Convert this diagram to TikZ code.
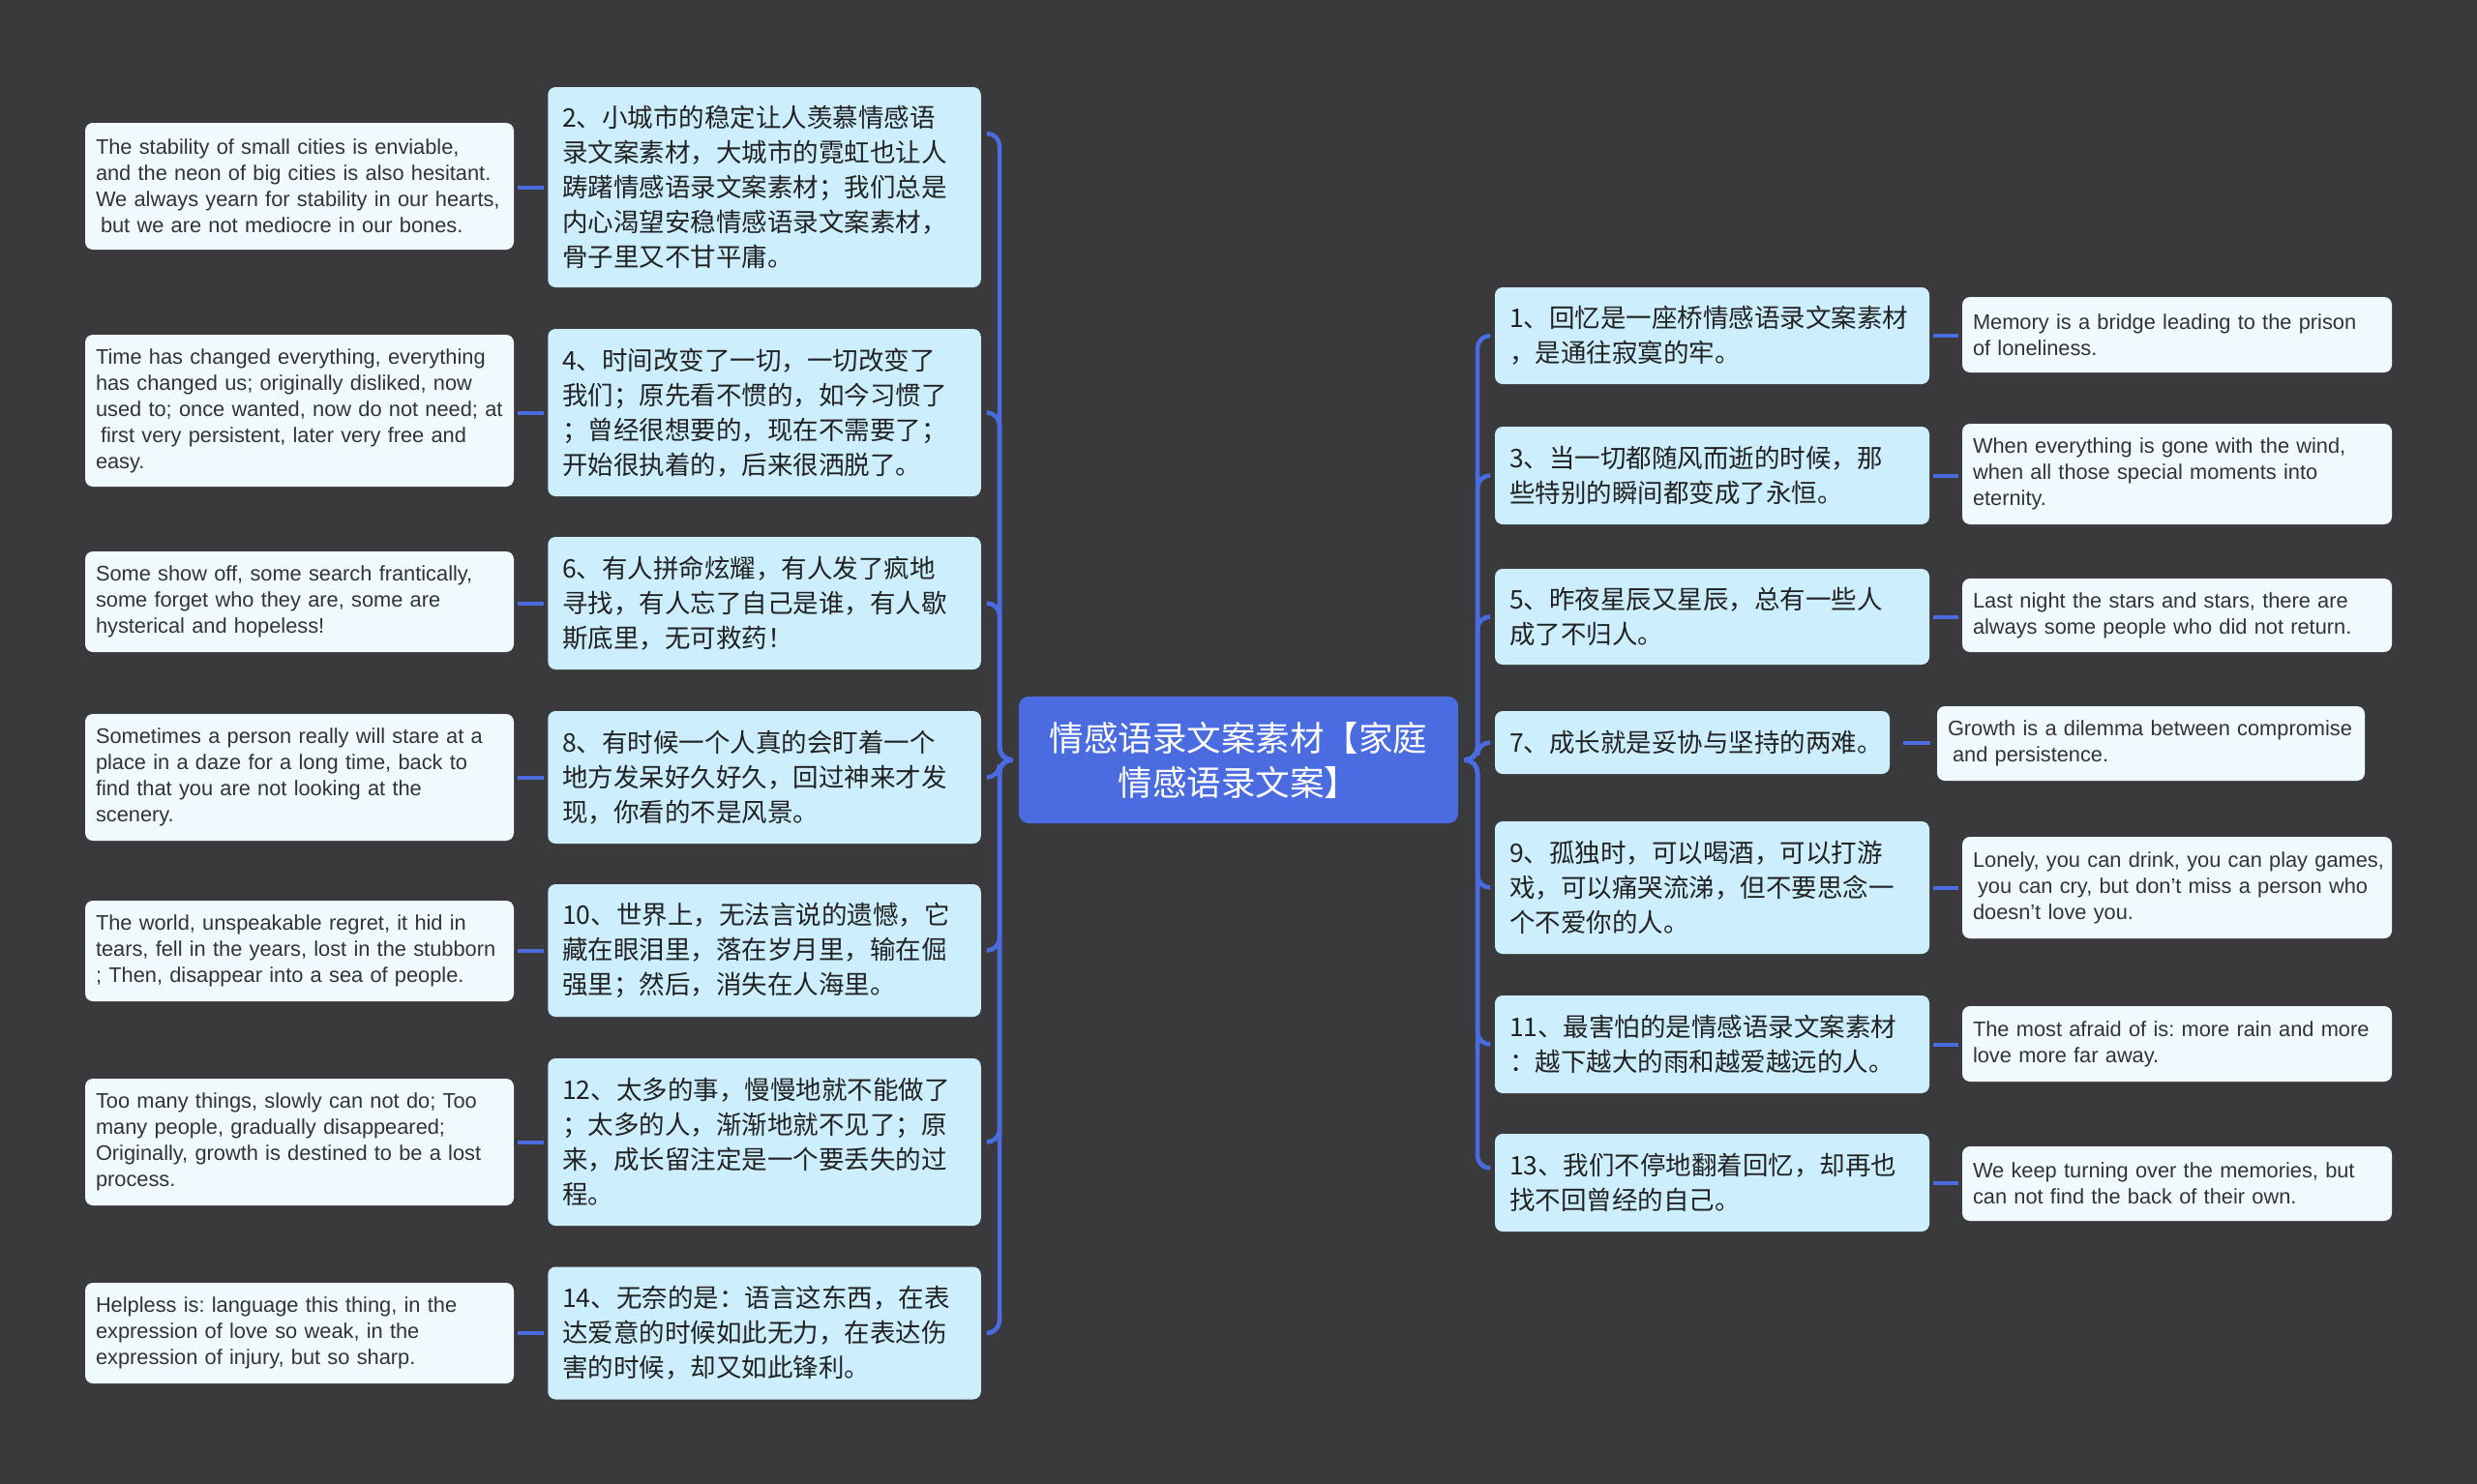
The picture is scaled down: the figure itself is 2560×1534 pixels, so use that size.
\documentclass[tikz,border=0pt]{standalone}
\usepackage{fontspec}
\setmainfont{Liberation Sans}
\newfontfamily\cjk{Noto Sans CJK SC}
\frenchspacing
\definecolor{bg}{HTML}{3A3A3C}
\definecolor{mainblue}{HTML}{4A6CE0}
\definecolor{midfill}{HTML}{CDEFFD}
\definecolor{leaffill}{HTML}{F0FAFE}
\definecolor{midtxt}{HTML}{222222}
\definecolor{leaftxt}{HTML}{333333}
\tikzset{
  box/.style={rounded corners=8pt, inner ysep=0pt, align=left},
  mid/.style={box, fill=midfill, text=midtxt, inner xsep=15pt, font=\cjk\fontsize{26.5}{36}\selectfont},
  midL/.style={mid, text width=417.5pt},
  midR/.style={mid, text width=419pt},
  leaf/.style={box, fill=leaffill, text=leaftxt, inner xsep=11pt, font=\fontsize{21.8}{27}\selectfont},
  leafL/.style={leaf, text width=421pt},
  leafR/.style={leaf, text width=422pt},
  hub/.style={rounded corners=10pt, fill=mainblue, text=white, align=center,
    minimum width=454pt, minimum height=131pt, inner sep=0pt,
    font=\cjk\fontsize{35.5}{46}\selectfont},
  conn/.style={draw=mainblue, line width=4.5pt},
  brace/.style={conn, rounded corners=13pt},
  link/.style={conn, line width=4pt, shorten <=4pt, shorten >=4pt},
}
\begin{document}
\begin{tikzpicture}[x=1pt,y=-1pt]
\useasboundingbox (0,0) rectangle (2560,1534);
\fill[bg] (0,0) rectangle (2560,1534);

% centre
\node[hub] (c) at (1280,785.5) {情感语录文案素材【家庭\\情感语录文案】};

% left middle nodes
\node[midL, minimum height=207pt] (L2) at (790,193.5) {2、小城市的稳定让人羡慕情感语\\录文案素材，大城市的霓虹也让人\\踌躇情感语录文案素材；我们总是\\内心渴望安稳情感语录文案素材，\\骨子里又不甘平庸。};
\node[midL, minimum height=173pt] (L4) at (790,426.5) {4、时间改变了一切，一切改变了\\我们；原先看不惯的，如今习惯了\\；曾经很想要的，现在不需要了；\\开始很执着的，后来很洒脱了。};
\node[midL, minimum height=137pt] (L6) at (790,623.5) {6、有人拼命炫耀，有人发了疯地\\寻找，有人忘了自己是谁，有人歇\\斯底里，无可救药！};
\node[midL, minimum height=137pt] (L8) at (790,803.5) {8、有时候一个人真的会盯着一个\\地方发呆好久好久，回过神来才发\\现，你看的不是风景。};
\node[midL, minimum height=137pt] (L10) at (790,982.5) {10、世界上，无法言说的遗憾，它\\藏在眼泪里，落在岁月里，输在倔\\强里；然后，消失在人海里。};
\node[midL, minimum height=173pt] (L12) at (790,1180.5) {12、太多的事，慢慢地就不能做了\\；太多的人，渐渐地就不见了；原\\来，成长留注定是一个要丢失的过\\程。};
\node[midL, minimum height=137pt] (L14) at (790,1378) {14、无奈的是：语言这东西，在表\\达爱意的时候如此无力，在表达伤\\害的时候，却又如此锋利。};

% left leaves
\node[leafL, minimum height=131pt] (E2) at (309.5,192.5) {The stability of small cities is enviable,\\and the neon of big cities is also hesitant.\\We always yearn for stability in our hearts,\\\hspace*{5pt}but we are not mediocre in our bones.};
\node[leafL, minimum height=157pt] (E4) at (309.5,424.5) {Time has changed everything, everything\\has changed us; originally disliked, now\\used to; once wanted, now do not need; at\\\hspace*{5pt}first very persistent, later very free and\\easy.};
\node[leafL, minimum height=104pt] (E6) at (309.5,622) {Some show off, some search frantically,\\some forget who they are, some are\\hysterical and hopeless!};
\node[leafL, minimum height=131pt] (E8) at (309.5,803.5) {Sometimes a person really will stare at a\\place in a daze for a long time, back to\\find that you are not looking at the\\scenery.};
\node[leafL, minimum height=104pt] (E10) at (309.5,983) {The world, unspeakable regret, it hid in\\tears, fell in the years, lost in the stubborn\\; Then, disappear into a sea of people.};
\node[leafL, minimum height=131pt] (E12) at (309.5,1180.5) {Too many things, slowly can not do; Too\\many people, gradually disappeared;\\Originally, growth is destined to be a lost\\process.};
\node[leafL, minimum height=104pt] (E14) at (309.5,1378) {Helpless is: language this thing, in the\\expression of love so weak, in the\\expression of injury, but so sharp.};

% right middle nodes
\node[midR, minimum height=100pt] (R1) at (1769.5,347) {1、回忆是一座桥情感语录文案素材\\，是通往寂寞的牢。};
\node[midR, minimum height=101pt] (R3) at (1769.5,491.5) {3、当一切都随风而逝的时候，那\\些特别的瞬间都变成了永恒。};
\node[midR, minimum height=99pt] (R5) at (1769.5,637.5) {5、昨夜星辰又星辰，总有一些人\\成了不归人。};
\node[mid, text width=378pt, minimum height=65pt] (R7) at (1749,767.5) {7、成长就是妥协与坚持的两难。};
\node[midR, minimum height=137pt] (R9) at (1769.5,917.5) {9、孤独时，可以喝酒，可以打游\\戏，可以痛哭流涕，但不要思念一\\个不爱你的人。};
\node[midR, minimum height=101pt] (R11) at (1769.5,1079.5) {11、最害怕的是情感语录文案素材\\：越下越大的雨和越爱越远的人。};
\node[midR, minimum height=101pt] (R13) at (1769.5,1222.5) {13、我们不停地翻着回忆，却再也\\找不回曾经的自己。};

% right leaves
\node[leafR, minimum height=78pt] (F1) at (2250,346) {Memory is a bridge leading to the prison\\of loneliness.};
\node[leafR, minimum height=104pt] (F3) at (2250,490) {When everything is gone with the wind,\\when all those special moments into\\eternity.};
\node[leafR, minimum height=76pt] (F5) at (2250,636) {Last night the stars and stars, there are\\always some people who did not return.};
\node[leaf, text width=420pt, minimum height=77pt] (F7) at (2223,768.5) {Growth is a dilemma between compromise\\\hspace*{5pt}and persistence.};
\node[leaf, text width=434pt, inner xsep=5pt, minimum height=105pt] (F9) at (2250,917.5) {\hspace*{6pt}Lonely, you can drink, you can play games,\\\hspace*{11pt}you can cry, but don't miss a person who\\\hspace*{6pt}doesn't love you.};
\node[leafR, minimum height=78pt] (F11) at (2250,1079) {The most afraid of is: more rain and more\\love more far away.};
\node[leafR, minimum height=77pt] (F13) at (2250,1223.5) {We keep turning over the memories, but\\can not find the back of their own.};

% left brace connectors
\coordinate (lj) at (1033,785.5);
\draw[brace] ([xshift=-6pt]c.west) -- (lj) |- ([xshift=6pt,yshift=55.5pt]L2.east);
\foreach \n in {L4,L6,L8,L10,L12,L14}
  \draw[brace] ([xshift=-6pt]c.west) -- (lj) |- ([xshift=6pt]\n.east);

% right brace connectors
\coordinate (rj) at (1527,785.5);
\foreach \n in {R1,R3,R5,R7,R9,R11}
  \draw[brace] ([xshift=6pt]c.east) -- (rj) |- ([xshift=-5pt]\n.west);
\draw[brace] ([xshift=6pt]c.east) -- (rj) |- ([xshift=-5pt,yshift=15pt]R13.west);

% short links
\foreach \a/\b in {L2/E2,L4/E4,L6/E6,L8/E8,L10/E10,L12/E12,L14/E14}
  \draw[link] (\a.west) -- (\a.west -| \b.east);
\foreach \a/\b in {R1/F1,R3/F3,R5/F5,R9/F9,R11/F11,R13/F13}
  \draw[link] (\a.east) -- (\a.east -| \b.west);
\draw[link, shorten <=14pt, shorten >=7pt] (R7.east) -- (R7.east -| F7.west);
\end{tikzpicture}
\end{document}
